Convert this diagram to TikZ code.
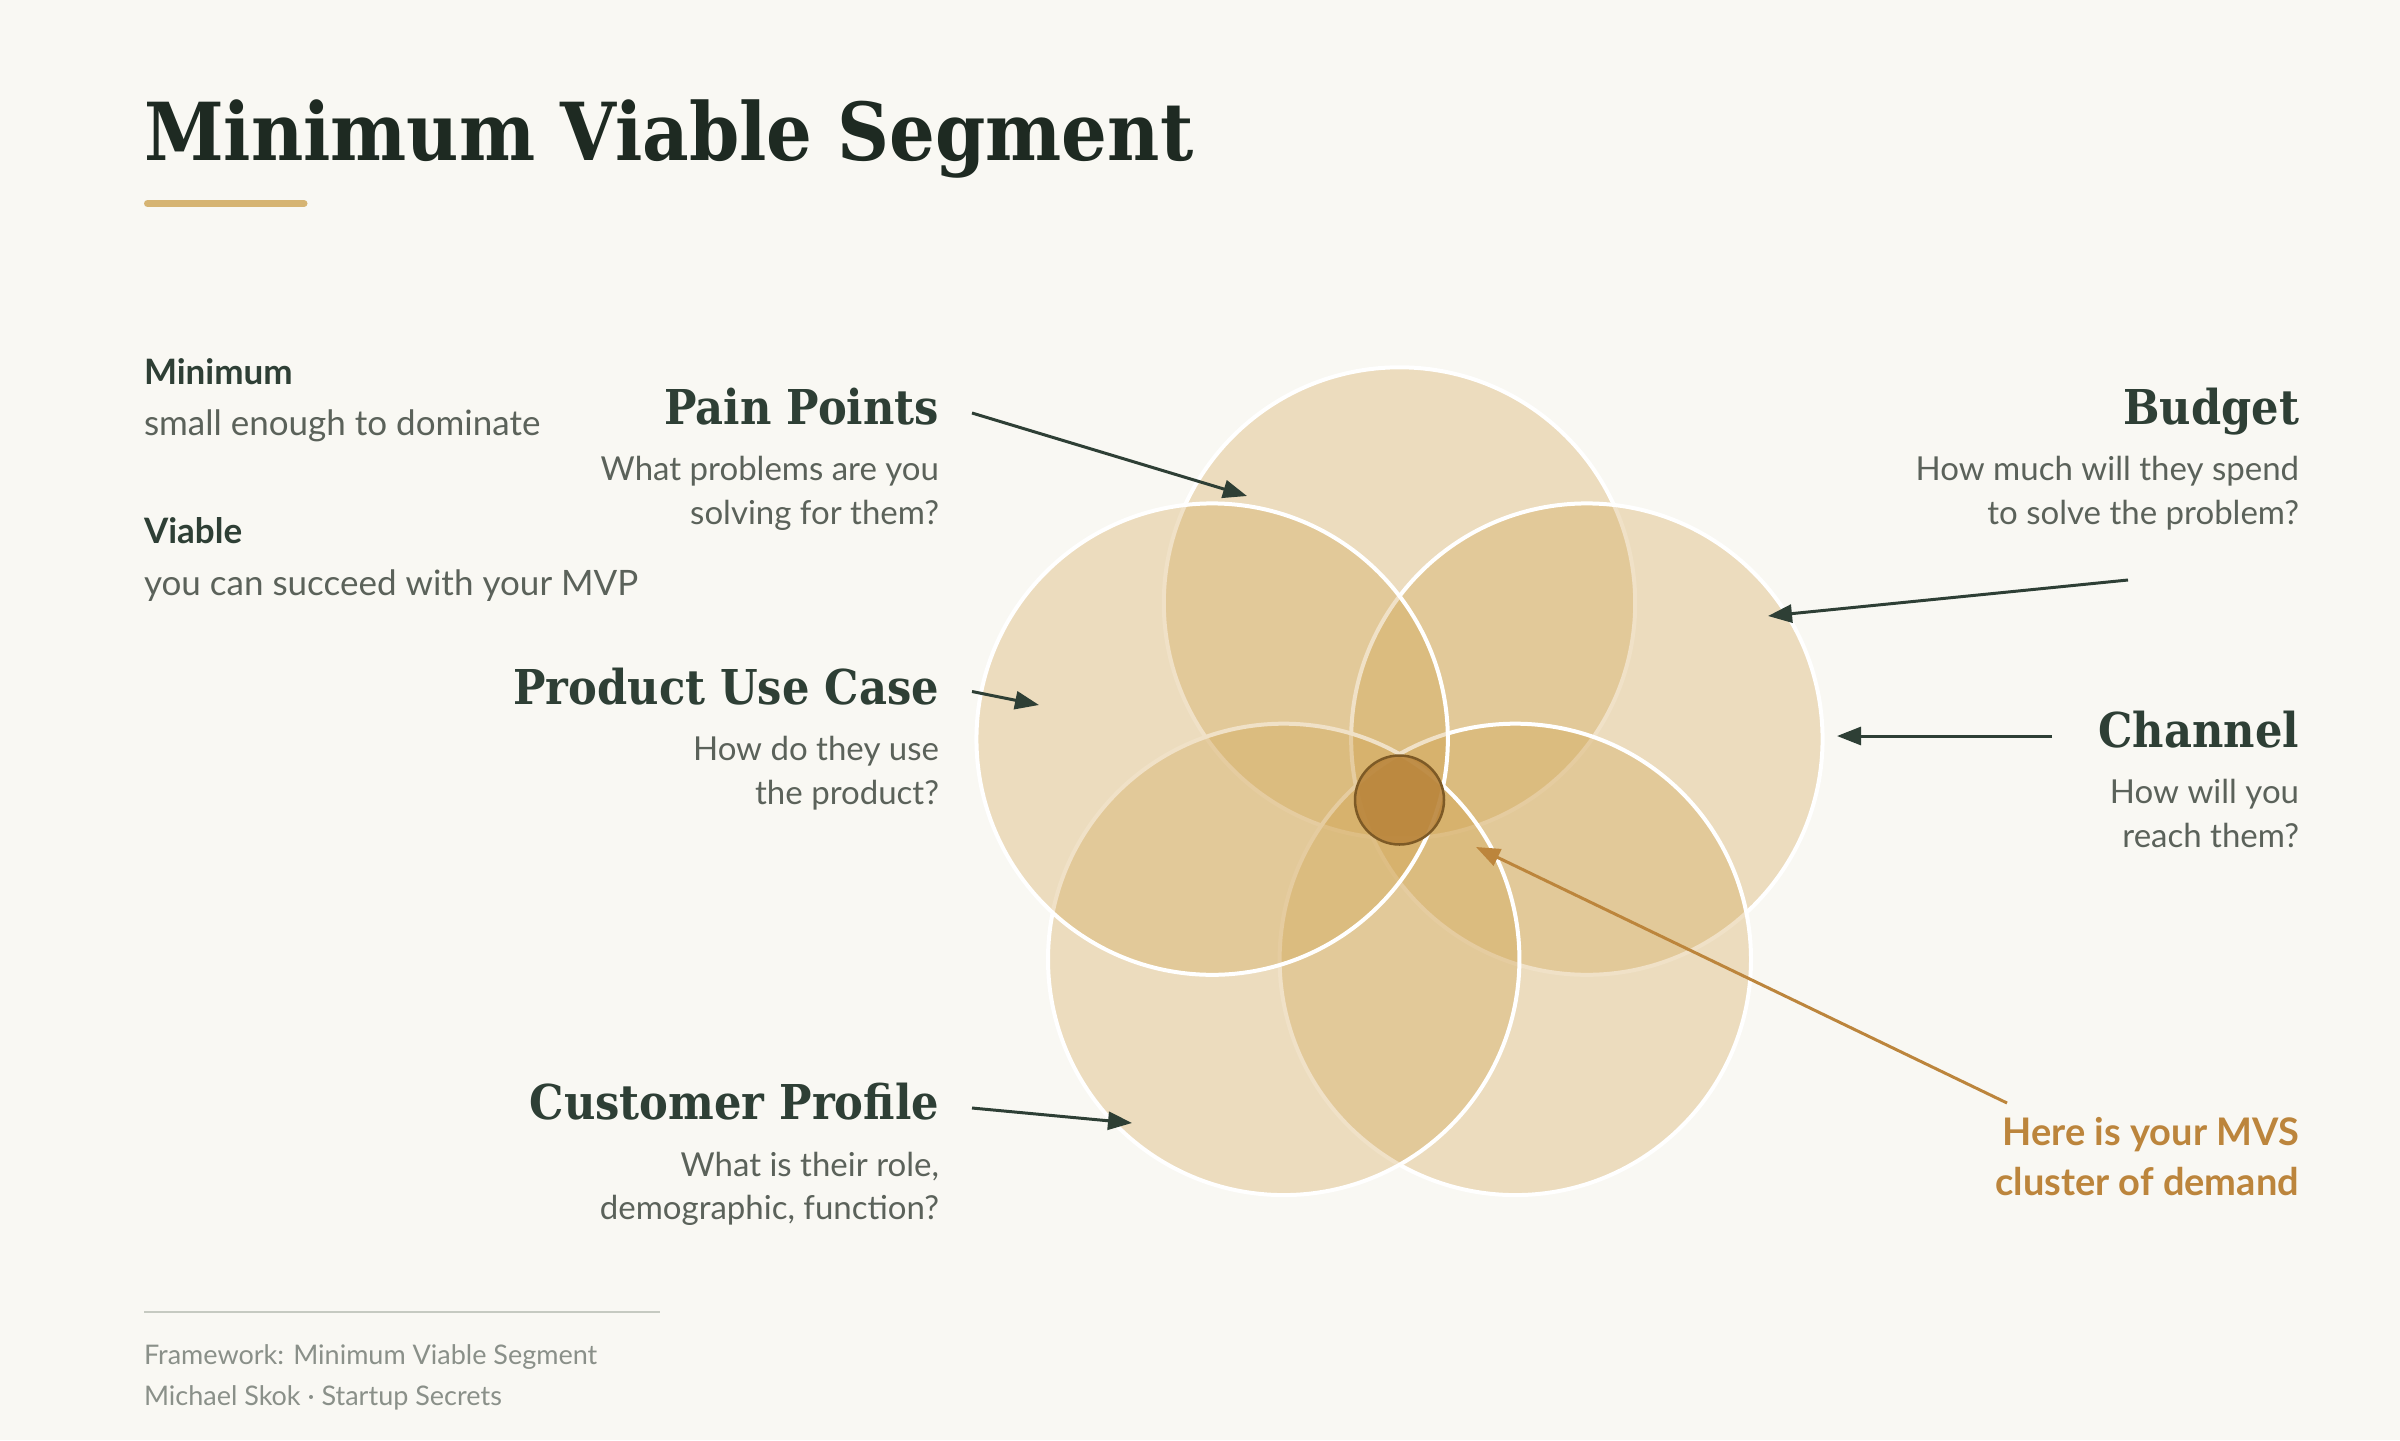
\documentclass[tikz,border=0pt]{standalone}
\usepackage{fontspec}
\setmainfont{Lato}
\newfontfamily\headfont[FakeStretch=0.9]{DejaVu Serif}
\usetikzlibrary{arrows.meta}

\definecolor{bgcream}{HTML}{F9F8F3}
\definecolor{inkdark}{HTML}{1E2A22}
\definecolor{inkgreen}{HTML}{2E3F35}
\definecolor{inkgray}{HTML}{5B625A}
\definecolor{petalgold}{HTML}{CE9E46}
\definecolor{goldrule}{HTML}{D6B472}
\definecolor{mvsfill}{HTML}{BB873E}
\definecolor{mvsedge}{HTML}{7D5A26}
\definecolor{mvsink}{HTML}{BC853C}
\definecolor{footgray}{HTML}{8A9089}
\definecolor{rulegray}{HTML}{C6CAC1}

\tikzstyle{title}    = [font=\headfont\bfseries\fontsize{80}{90}\selectfont, text=inkdark, inner sep=0pt, outer sep=0pt]
\tikzstyle{heading}  = [font=\headfont\bfseries\fontsize{48}{56}\selectfont, text=inkgreen, inner sep=0pt, outer sep=0pt]
\tikzstyle{question} = [font=\fontsize{33}{44}\selectfont, text=inkgray, inner sep=0pt, outer sep=0pt]
\tikzstyle{term}     = [font=\bfseries\fontsize{35}{42}\selectfont, text=inkgreen, inner sep=0pt, outer sep=0pt]
\tikzstyle{gloss}    = [font=\fontsize{35}{44}\selectfont, text=inkgray, inner sep=0pt, outer sep=0pt]
\tikzstyle{mvsnote}  = [font=\bfseries\fontsize{38}{50}\selectfont, text=mvsink, inner sep=0pt, outer sep=0pt]
\tikzstyle{source}   = [font=\fontsize{27}{34}\selectfont, text=footgray, inner sep=0pt, outer sep=0pt]
\tikzstyle{petal}    = [circle, minimum size=471.4pt, inner sep=0pt, fill=petalgold, fill opacity=0.3, draw=white, line width=4pt]
\tikzstyle{core}     = [circle, minimum size=89pt, inner sep=0pt, fill=mvsfill, fill opacity=0.92, draw=mvsedge, line width=2.5pt]
\tikzstyle{pointer}  = [draw=inkgreen, line width=3pt, -{Triangle[length=24pt, width=18pt]}]
\tikzstyle{mvspointer} = [draw=mvsink, line width=3pt, -{Triangle[length=24pt, width=18pt]}]

\begin{document}
\begin{tikzpicture}[x=1pt, y=-1pt]
  \path[use as bounding box, fill=bgcream] (0,0) rectangle (2400,1440);

  % title
  \node[title, anchor=base west] (title) at (144,160) {Minimum Viable Segment};
  \draw[goldrule, line width=7pt, line cap=round] (147.5,203.5) -- (304,203.5);

  % left notes
  \node[term,  anchor=base west] (tmin) at (144,384) {Minimum};
  \node[gloss, anchor=base west] (gmin) at (144,435) {small enough to dominate};
  \node[term,  anchor=base west] (tvia) at (144,543) {Viable};
  \node[gloss, anchor=base west] (gvia) at (144,595) {you can succeed with your MVP};

  % petals
  \foreach \a/\n in {90/ctop, 18/cright, -54/cbr, -126/cbl, -198/cleft}
    \node[petal] (\n) at ({1399.5+197*cos(\a)}, {800-197*sin(\a)}) {};
  \node[core] (mvs) at (1399.5,800) {};

  % labels
  \node[heading,  anchor=base east] (pain)      at (939,424)  {Pain Points};
  \node[question, anchor=base east] (painq1)    at (939,480)  {What problems are you};
  \node[question, anchor=base east] (painq2)    at (939,524)  {solving for them?};
  \node[heading,  anchor=base east] (usecase)   at (939,704)  {Product Use Case};
  \node[question, anchor=base east] (usecaseq1) at (939,760)  {How do they use};
  \node[question, anchor=base east] (usecaseq2) at (939,804)  {the product?};
  \node[heading,  anchor=base east] (profile)   at (939,1119) {Customer Profile};
  \node[question, anchor=base east] (profileq1) at (939,1176) {What is their role,};
  \node[question, anchor=base east] (profileq2) at (939,1219) {demographic, function?};
  \node[heading,  anchor=base east] (budget)    at (2299,424) {Budget};
  \node[question, anchor=base east] (budgetq1)  at (2299,480) {How much will they spend};
  \node[question, anchor=base east] (budgetq2)  at (2299,524) {to solve the problem?};
  \node[heading,  anchor=base east] (channel)   at (2299,747) {Channel};
  \node[question, anchor=base east] (channelq1) at (2299,803) {How will you};
  \node[question, anchor=base east] (channelq2) at (2299,847) {reach them?};
  \node[mvsnote,  anchor=base east] (mvsnote1)  at (2299,1145) {Here is your MVS};
  \node[mvsnote,  anchor=base east] (mvsnote2)  at (2299,1195) {cluster of demand};

  % arrows
  \coordinate (painA) at (972,413);      \coordinate (painB) at (1247,496);
  \coordinate (usecaseA) at (972,691.5); \coordinate (usecaseB) at (1039,705);
  \coordinate (profileA) at (972,1108);  \coordinate (profileB) at (1132,1123);
  \coordinate (budgetA) at (2128,580);   \coordinate (budgetB) at (1768,616);
  \coordinate (channelA) at (2052,736);  \coordinate (channelB) at (1837,736);
  \coordinate (mvsA) at (2007,1103);     \coordinate (mvsB) at (1476,847);
  \draw[pointer] (painA) -- (painB);
  \draw[pointer] (usecaseA) -- (usecaseB);
  \draw[pointer] (profileA) -- (profileB);
  \draw[pointer] (budgetA) -- (budgetB);
  \draw[pointer] (channelA) -- (channelB);
  \draw[mvspointer] (mvsA) -- (mvsB);

  % source
  \draw[rulegray, line width=2pt] (144,1312) -- (659.5,1312);
  \node[source, anchor=base west] (src1) at (144,1364) {Framework: Minimum Viable Segment};
  \node[source, anchor=base west] (src2) at (144,1405) {Michael Skok · Startup Secrets};
\end{tikzpicture}
\end{document}
